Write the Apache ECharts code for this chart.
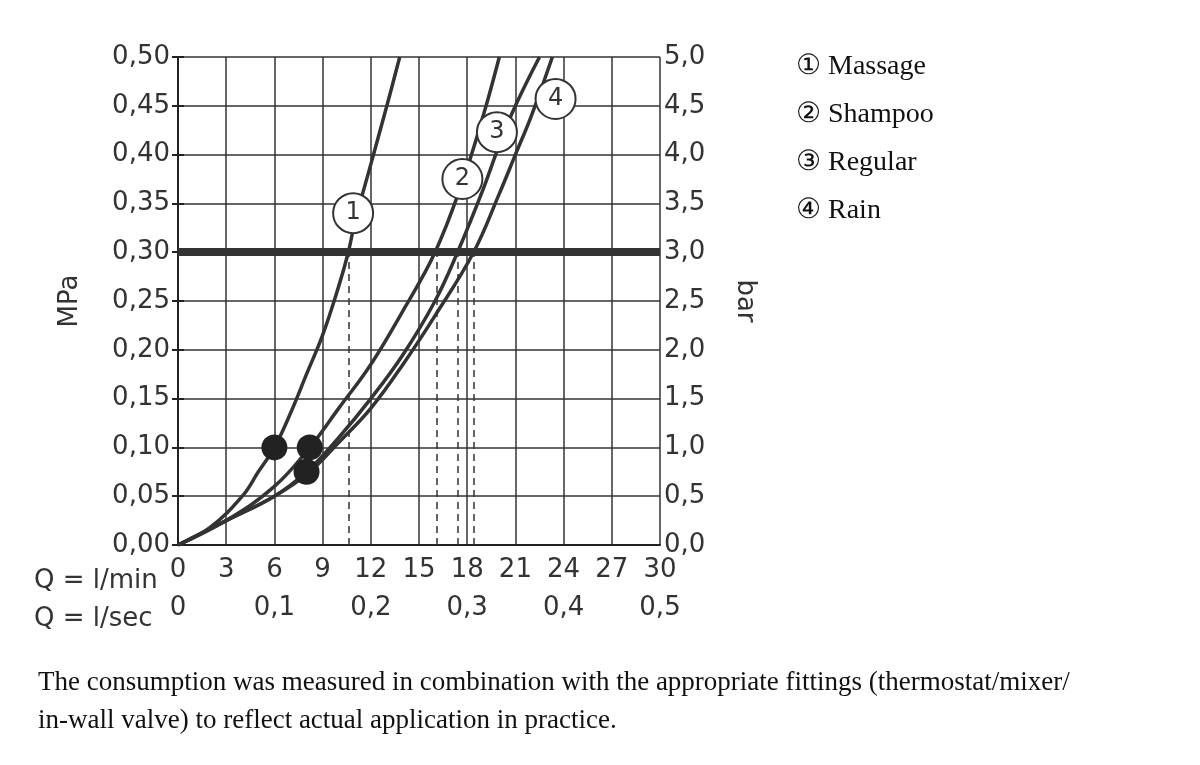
<!DOCTYPE html><html><head><meta charset="utf-8"><script src="https://cdn.jsdelivr.net/npm/echarts@6/dist/echarts.min.js"></script>
<style>body{margin:0}#c{width:1200px;height:765px}</style></head><body><div id="c"></div><script>
const massage=[[0,0],[2,0.018],[4,0.05],[5,0.075],[6,0.10],[7,0.135],[8,0.175],[9,0.215],[10,0.265],[10.6,0.30],[11,0.33],[12,0.39],[13,0.45],[13.8,0.50]];
const shampoo=[[0,0],[3,0.025],[6,0.06],[8.2,0.10],[10,0.14],[12,0.185],[14,0.24],[16,0.30],[17.7,0.372],[19,0.44],[20,0.50]];
const regular=[[0,0],[3,0.025],[6,0.05],[8,0.075],[10,0.11],[12,0.15],[14,0.195],[16,0.25],[17.4,0.30],[19,0.365],[20,0.41],[21,0.45],[22.5,0.50]];
const rain=[[0,0],[3,0.025],[6,0.05],[8.2,0.075],[10,0.105],[12,0.14],[14,0.185],[16,0.235],[18.4,0.30],[20,0.36],[21,0.40],[22,0.44],[23.3,0.50]];
const dots=[[6,0.10],[8.2,0.10],[8,0.075]];
const labelPos=[[10.9,0.34,'1'],[17.7,0.375,'2'],[19.85,0.423,'3'],[23.5,0.457,'4']];
const dashX=[10.6,16.1,17.4,18.4];
const xTicksMin=[0,3,6,9,12,15,18,21,24,27,30];
const xTicksSec={0:'0',6:'0,1',12:'0,2',18:'0,3',24:'0,4',30:'0,5'};
const legendItems=['① Massage','② Shampoo','③ Regular','④ Rain'];
const F='"DejaVu Sans", sans-serif';
const FS=26;
const lineS=d=>({type:'line',data:d,smooth:0.4,symbol:'none',lineStyle:{color:'#333',width:3.5},z:3});
const c=echarts.init(document.getElementById('c'));
c.setOption({animation:false,
grid:{left:178,right:540,top:57,bottom:220},
xAxis:[{type:'value',min:0,max:30,interval:3,axisLine:{lineStyle:{color:'#222',width:2}},axisTick:{show:false},
 splitLine:{lineStyle:{color:'#333',width:1.5}},axisLabel:{fontSize:FS,fontFamily:F,color:'#333',margin:12}},
 {type:'value',min:0,max:30,interval:3,position:'bottom',offset:38,axisLine:{show:false},axisTick:{show:false},splitLine:{show:false},
 axisLabel:{fontSize:FS,fontFamily:F,color:'#333',margin:12,formatter:v=>xTicksSec[v]!==undefined?xTicksSec[v]:''}}],
yAxis:[{type:'value',min:0,max:0.5,interval:0.05,axisLine:{show:true,lineStyle:{color:'#222',width:2}},axisTick:{show:true,inside:false,length:6,lineStyle:{color:'#222',width:2}},
 splitLine:{lineStyle:{color:'#333',width:1.5}},axisLabel:{fontSize:FS,fontFamily:F,color:'#333',margin:8,formatter:v=>v.toFixed(2).replace('.',',')},
 name:'MPa',nameLocation:'middle',nameGap:95,nameTextStyle:{fontSize:FS,fontFamily:F,color:'#333'}},
 {type:'value',min:0,max:5,interval:0.5,position:'right',axisLine:{show:true,lineStyle:{color:'#222',width:2}},axisTick:{show:true,length:6,lineStyle:{color:'#222',width:2}},
 splitLine:{show:false},axisLabel:{fontSize:FS,fontFamily:F,color:'#333',margin:4,formatter:v=>v.toFixed(1).replace('.',',')},
 name:'bar',nameLocation:'middle',nameGap:72,nameRotate:-90,nameTextStyle:{fontSize:FS,fontFamily:F,color:'#333'}}],
series:[lineS(massage),lineS(shampoo),lineS(regular),lineS(rain),
 {type:'scatter',data:dots,symbolSize:26,itemStyle:{color:'#222',opacity:1},z:5},
 {type:'scatter',data:labelPos.map(p=>[p[0],p[1]]),symbolSize:40,itemStyle:{color:'#fff',borderColor:'#333',borderWidth:2,opacity:1},z:6,
  label:{show:true,position:'inside',formatter:p=>labelPos[p.dataIndex][2],fontSize:24,fontFamily:F,color:'#333'}},
 {type:'line',data:[],markLine:{silent:true,symbol:'none',label:{show:false},
  data:[[{coord:[0,0.3],lineStyle:{type:'solid',width:8,color:'#333'}},{coord:[30,0.3]}]].concat(
   dashX.map(x=>[{coord:[x,0],lineStyle:{type:[7,5],width:1.5,color:'#333'}},{coord:[x,0.3]}]))},z:2}],
graphic:[
 {type:'text',left:34,top:568,style:{text:'Q = l/min',fontSize:FS,fontFamily:F,fill:'#333'}},
 {type:'text',left:34,top:606,style:{text:'Q = l/sec',fontSize:FS,fontFamily:F,fill:'#333'}}]
 .concat(legendItems.map((t,i)=>({type:'text',left:796,top:53+i*48,style:{text:t,fontSize:28,fontFamily:'"Liberation Serif", serif',fill:'#111'}})))
 .concat([{type:'text',left:38,top:664,style:{text:'The consumption was measured in combination with the appropriate fittings (thermostat/mixer/\nin-wall valve) to reflect actual application in practice.',fontSize:27,lineHeight:38,fontFamily:'"Liberation Serif", serif',fill:'#111'}}])
});
</script></body></html>
